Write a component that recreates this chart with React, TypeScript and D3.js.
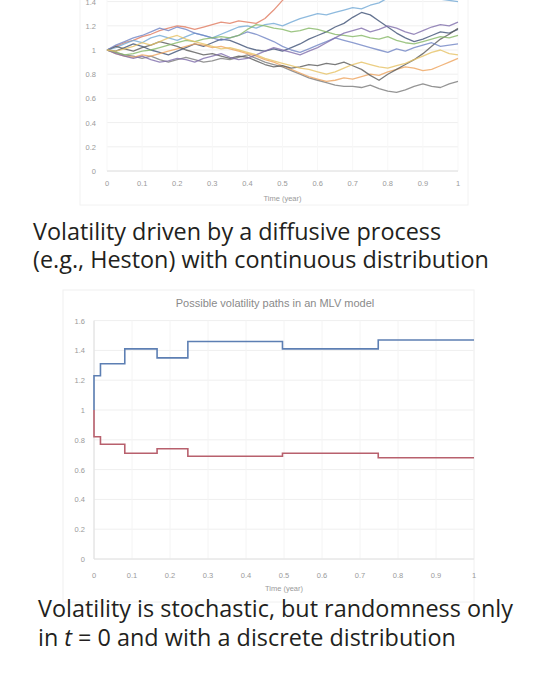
import React from "react";
import * as d3 from "d3";

// ---------- Top chart data (diffusive volatility paths) ----------
const topTimes = [
  0, 0.025, 0.05, 0.075, 0.1, 0.125, 0.15, 0.175, 0.2, 0.225, 0.25, 0.275, 0.3, 0.325, 0.35, 0.375, 0.4,
  0.425, 0.45, 0.475, 0.5, 0.525, 0.55, 0.575, 0.6, 0.625, 0.65, 0.675, 0.7, 0.725, 0.75, 0.775, 0.8,
  0.825, 0.85, 0.875, 0.9, 0.925, 0.95, 0.975, 1.0,
];
const pathA = [1.0, 1.03, 1.06, 1.08, 1.11, 1.13, 1.16, 1.18, 1.2, 1.19, 1.17, 1.19, 1.21, 1.23, 1.22, 1.24, 1.23, 1.22, 1.26, 1.33, 1.41, 1.49, 1.56, 1.62, 1.68, 1.73, 1.79, 1.84, 1.88, 1.93, 1.98, 2.02, 2.07, 2.1, 2.15, 2.2, 2.24, 2.28, 2.32, 2.36, 2.4];
const pathB = [1.0, 1.02, 1.05, 1.08, 1.06, 1.1, 1.12, 1.1, 1.08, 1.11, 1.14, 1.12, 1.1, 1.13, 1.16, 1.19, 1.2, 1.18, 1.21, 1.22, 1.2, 1.23, 1.26, 1.28, 1.3, 1.29, 1.31, 1.33, 1.35, 1.34, 1.37, 1.39, 1.43, 1.46, 1.48, 1.47, 1.45, 1.43, 1.42, 1.41, 1.4];
const pathC = [1.0, 0.99, 1.02, 1.05, 1.03, 1.0, 0.98, 0.96, 0.99, 1.02, 1.05, 1.03, 1.06, 1.09, 1.08, 1.05, 1.02, 1.0, 0.99, 1.01, 0.99, 1.02, 1.05, 1.09, 1.12, 1.15, 1.19, 1.22, 1.27, 1.31, 1.29, 1.24, 1.19, 1.14, 1.1, 1.07, 1.09, 1.12, 1.15, 1.14, 1.17];
const pathD = [1.0, 0.98, 0.96, 0.95, 0.93, 0.95, 0.92, 0.9, 0.92, 0.94, 0.92, 0.9, 0.91, 0.93, 0.92, 0.94, 0.96, 0.93, 0.9, 0.88, 0.86, 0.83, 0.8, 0.77, 0.75, 0.73, 0.71, 0.7, 0.7, 0.69, 0.71, 0.68, 0.66, 0.65, 0.67, 0.7, 0.72, 0.7, 0.69, 0.72, 0.74];
const pathE = [1.0, 0.97, 0.95, 0.94, 0.96, 0.95, 0.97, 0.99, 1.01, 1.03, 1.05, 1.04, 1.02, 1.03, 1.01, 0.99, 0.97, 0.95, 0.92, 0.9, 0.87, 0.84, 0.81, 0.78, 0.76, 0.74, 0.75, 0.77, 0.76, 0.78, 0.8, 0.79, 0.82, 0.84, 0.86, 0.85, 0.83, 0.84, 0.87, 0.9, 0.93];
const pathF = [1.0, 1.03, 1.01, 0.99, 1.02, 1.04, 1.07, 1.05, 1.03, 1.0, 0.98, 0.96, 0.97, 0.95, 0.93, 0.95, 0.94, 0.91, 0.88, 0.86, 0.87, 0.85, 0.86, 0.88, 0.87, 0.89, 0.88, 0.9, 0.87, 0.84, 0.79, 0.75, 0.8, 0.84, 0.88, 0.92, 0.97, 1.03, 1.09, 1.13, 1.18];
const pathG = [1.0, 1.04, 1.07, 1.1, 1.12, 1.15, 1.18, 1.16, 1.19, 1.17, 1.14, 1.12, 1.1, 1.08, 1.1, 1.12, 1.15, 1.13, 1.1, 1.07, 1.03, 1.0, 0.98, 1.01, 1.04, 1.07, 1.1, 1.08, 1.06, 1.04, 1.02, 1.0, 0.98, 1.01, 0.99, 1.02, 1.04, 1.06, 1.03, 1.04, 1.05];
const pathH = [1.0, 0.98, 0.96, 0.97, 0.99, 1.0, 1.02, 1.04, 1.06, 1.08, 1.07, 1.09, 1.1, 1.11, 1.1, 1.12, 1.17, 1.21, 1.2, 1.18, 1.17, 1.15, 1.16, 1.18, 1.17, 1.15, 1.13, 1.12, 1.11, 1.12, 1.1, 1.09, 1.11, 1.08, 1.06, 1.05, 1.07, 1.09, 1.11, 1.1, 1.12];
const pathI = [1.0, 0.97, 0.95, 0.93, 0.95, 0.92, 0.9, 0.91, 0.93, 0.92, 0.9, 0.93, 0.95, 0.97, 0.94, 0.92, 0.93, 0.96, 0.99, 1.02, 1.0, 0.98, 0.96, 0.99, 1.02, 1.06, 1.1, 1.14, 1.16, 1.18, 1.15, 1.17, 1.2, 1.18, 1.15, 1.13, 1.16, 1.19, 1.21, 1.2, 1.23];
const pathJ = [1.0, 0.99, 1.01, 1.03, 1.06, 1.04, 1.07, 1.1, 1.12, 1.09, 1.07, 1.05, 1.03, 1.01, 1.02, 1.0, 0.98, 0.96, 0.93, 0.91, 0.89, 0.87, 0.85, 0.84, 0.82, 0.8, 0.82, 0.85, 0.88, 0.9, 0.88, 0.86, 0.85, 0.87, 0.89, 0.92, 0.95, 0.98, 1.0, 0.97, 0.96];
const topSeries = [pathA, pathB, pathC, pathD, pathE, pathF, pathG, pathH, pathI, pathJ];
const topColors = ["#e07a5f", "#72a9d6", "#3f5176", "#7a7a7a", "#eea45e", "#5a5a5a", "#7184c4", "#86b866", "#7f6eab", "#e6c264"];

// ---------- Bottom chart data (MLV step paths) ----------
const stepTimes = [0, 0, 0.017, 0.081, 0.166, 0.247, 0.496, 0.748, 1.0];
const highPath = [1.0, 1.23, 1.31, 1.41, 1.35, 1.46, 1.41, 1.47, 1.47];
const lowPath = [1.0, 0.82, 0.77, 0.71, 0.74, 0.69, 0.71, 0.68, 0.68];

const xTicks = [0, 0.1, 0.2, 0.3, 0.4, 0.5, 0.6, 0.7, 0.8, 0.9, 1];
const topYTicks = [0, 0.2, 0.4, 0.6, 0.8, 1, 1.2, 1.4];
const botYTicks = [0, 0.2, 0.4, 0.6, 0.8, 1, 1.2, 1.4, 1.6];

const bottomTitle = "Possible volatility paths in an MLV model";
const xTitle = "Time (year)";
const caption1 = ["Volatility driven by a diffusive process", "(e.g., Heston) with continuous distribution"];
const caption2 = "Volatility is stochastic, but randomness only";

const tickFmt = (v: number) => (v === 0 ? "0" : d3.format("~g")(v));

export default function App() {
  const W = 534;
  const H = 689;

  // top chart scales
  const tx = d3.scaleLinear().domain([0, 1]).range([107, 458]);
  const ty = d3.scaleLinear().domain([0, 1]).range([171, 50]);
  // bottom chart scales
  const bx = d3.scaleLinear().domain([0, 1]).range([94, 474]);
  const by = d3.scaleLinear().domain([0, 1]).range([559, 410]);

  const topLine = d3
    .line<number>()
    .x((_, i) => tx(topTimes[i]))
    .y((d) => ty(d));

  const stepLine = d3
    .line<number>()
    .x((_, i) => bx(stepTimes[i]))
    .y((d) => by(d))
    .curve(d3.curveStepAfter);

  const tickColor = "#9a9a9a";
  const gridColor = "#efefef";
  const labelFont = "'Liberation Sans', Arial, sans-serif";
  const captionFont = "'Open Sans', 'Noto Sans', sans-serif";
  const capSize = 23.4;

  return (
    <svg width={W} height={H} style={{ position: "absolute", left: 0, top: 0, background: "#fff" }}>
      <rect x={0} y={0} width={W} height={H} fill="#fff" />
      {/* ===== Top chart ===== */}
      <rect x={80} y={-10} width={388} height={215} fill="none" stroke="#f2f2f2" />
      {topYTicks.map((t) => (
        <g key={"tg" + t}>
          <line x1={tx(0)} x2={tx(1)} y1={ty(t)} y2={ty(t)} stroke={gridColor} strokeWidth={1} />
          <text x={96} y={ty(t) + 3} textAnchor="end" fontSize={7.5} fill={tickColor} fontFamily={labelFont}>
            {tickFmt(t)}
          </text>
        </g>
      ))}
      {xTicks.map((t) => (
        <g key={"tx" + t}>
          <line x1={tx(t)} x2={tx(t)} y1={ty(0)} y2={ty(1.45)} stroke="#f7f7f7" strokeWidth={1} />
          <text x={tx(t)} y={186} textAnchor="middle" fontSize={7.5} fill={tickColor} fontFamily={labelFont}>
            {tickFmt(t)}
          </text>
        </g>
      ))}
      <line x1={tx(0)} x2={tx(1)} y1={ty(0)} y2={ty(0)} stroke="#e2e2e2" />
      <text x={(tx(0) + tx(1)) / 2} y={201} textAnchor="middle" fontSize={7.5} fill={tickColor} fontFamily={labelFont}>
        {xTitle}
      </text>
      <g>
        {topSeries.map((s, i) => (
          <path key={"p" + i} d={topLine(s) || ""} fill="none" stroke={topColors[i]} strokeWidth={1.3} strokeOpacity={0.8} strokeLinejoin="round" />
        ))}
      </g>

      {/* caption 1 */}
      <text x={33} y={240} fontSize={capSize} fill="#231f20" fontFamily={captionFont}>
        <tspan x={33} y={240}>{caption1[0]}</tspan>
        <tspan x={33} y={268}>{caption1[1]}</tspan>
      </text>

      {/* ===== Bottom chart ===== */}
      <rect x={63} y={290} width={411} height={312} fill="none" stroke="#f0f0f0" />
      <text x={275} y={307} textAnchor="middle" fontSize={11} fill="#8a8a8a" fontFamily={labelFont}>
        {bottomTitle}
      </text>
      {botYTicks.map((t) => (
        <g key={"bg" + t}>
          <line x1={bx(0)} x2={bx(1)} y1={by(t)} y2={by(t)} stroke={gridColor} strokeWidth={1} />
          <text x={85} y={by(t) + 3} textAnchor="end" fontSize={7.5} fill={tickColor} fontFamily={labelFont}>
            {tickFmt(t)}
          </text>
        </g>
      ))}
      {xTicks.map((t) => (
        <g key={"bx" + t}>
          <line x1={bx(t)} x2={bx(t)} y1={by(0)} y2={by(1.6)} stroke="#f4f4f4" strokeWidth={1} />
          <text x={bx(t)} y={578} textAnchor="middle" fontSize={7.5} fill={tickColor} fontFamily={labelFont}>
            {tickFmt(t)}
          </text>
        </g>
      ))}
      <line x1={bx(0)} x2={bx(0)} y1={by(0)} y2={by(1.6)} stroke="#dedede" />
      <line x1={bx(0)} x2={bx(1)} y1={by(0)} y2={by(0)} stroke="#e2e2e2" />
      <text x={(bx(0) + bx(1)) / 2} y={591} textAnchor="middle" fontSize={7.5} fill={tickColor} fontFamily={labelFont}>
        {xTitle}
      </text>
      <path d={stepLine(highPath) || ""} fill="none" stroke="#5d7fb3" strokeWidth={1.6} />
      <path d={stepLine(lowPath) || ""} fill="none" stroke="#b8606d" strokeWidth={1.6} />

      {/* caption 2 */}
      <text x={38} y={617} fontSize={capSize} fill="#231f20" fontFamily={captionFont}>
        <tspan x={38} y={617}>{caption2}</tspan>
        <tspan x={38} y={646}>in </tspan>
        <tspan fontStyle="italic">t</tspan>
        <tspan> = 0 and with a discrete distribution</tspan>
      </text>
    </svg>
  );
}
